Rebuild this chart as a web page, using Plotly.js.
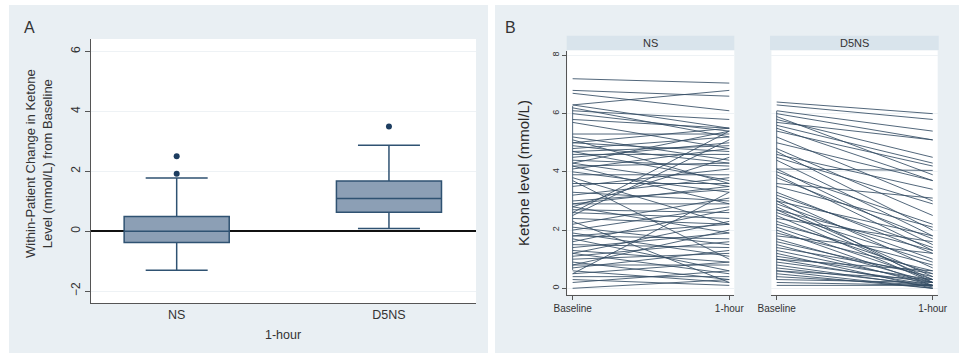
<!DOCTYPE html>
<html>
<head>
<meta charset="utf-8">
<script src="https://cdn.plot.ly/plotly-3.0.1.min.js"></script>
<style>html,body{margin:0;padding:0;background:#fff;}#chart{width:959px;height:354px;}</style>
</head>
<body>
<div id="chart"></div>
<script>
// ---------- Panel A data (within-patient change, box summaries) ----------
const groups = ['NS', 'D5NS'];
const q1 = [-0.38, 0.63];
const medians = [0.0, 1.09];
const q3 = [0.49, 1.68];
const lowerWhisker = [-1.31, 0.09];
const upperWhisker = [1.78, 2.87];
const outlierGroup = ['NS', 'NS', 'D5NS'];
const outlierValue = [2.5, 1.92, 3.5];

// ---------- Panel B data (ketone level per patient) ----------
const timeLabels = ['Baseline', '1-hour'];
const nsBaseline = [7.2, 6.8, 6.7, 6.3, 6.3, 6.2, 6.1, 6.0, 5.8, 5.7, 5.3, 5.2, 5.1, 5.0, 5.0, 4.9, 4.8, 4.7, 4.7, 4.6,
  4.5, 4.4, 4.3, 4.3, 4.2, 4.2, 4.1, 4.0, 3.9, 3.8, 3.7, 3.6, 3.5, 3.3, 3.2, 3.0, 2.9, 2.9, 2.8, 2.8,
  2.7, 2.6, 2.5, 2.4, 2.3, 2.2, 2.1, 2.0, 1.9, 1.8, 1.8, 1.7, 1.6, 1.5, 1.4, 1.3, 1.2, 1.2, 1.1, 1.0,
  0.9, 0.8, 0.8, 0.7, 0.6, 0.5, 0.4, 0.3, 0.2, 0.0, 2.6, 0.5];
const nsHour1 = [7.05, 6.6, 6.1, 6.8, 5.5, 5.2, 5.8, 5.4, 5.5, 4.8, 5.3, 4.4, 3.6, 5.5, 4.7, 4.3, 5.2, 4.9, 3.7, 4.6,
  5.0, 4.2, 3.5, 5.4, 4.3, 2.9, 4.8, 3.3, 3.9, 2.2, 1.0, 3.6, 4.1, 3.0, 3.8, 3.4, 2.9, 3.5, 4.5, 1.9,
  2.6, 2.4, 5.1, 2.2, 0.2, 3.1, 1.5, 2.8, 1.1, 2.2, 1.7, 0.6, 2.7, 1.4, 1.9, 0.9, 2.3, 0.5, 1.6, 1.2,
  0.3, 0.8, 2.0, 1.3, 0.2, 0.9, 0.4, 0.1, 0.6, 0.3, 5.4, 3.3];
const d5Baseline = [6.4, 6.3, 6.1, 6.0, 5.8, 5.7, 5.6, 5.5, 5.4, 5.2, 5.0, 4.8, 4.6, 4.5, 4.4, 4.1, 4.1, 4.0, 3.9, 3.8,
  3.6, 3.3, 3.2, 3.1, 3.0, 2.9, 2.8, 2.7, 2.6, 2.5, 2.4, 2.3, 2.2, 2.1, 2.0, 1.9, 1.8, 1.7, 1.6, 1.5,
  1.4, 1.3, 1.2, 1.1, 1.0, 0.9, 0.8, 0.7, 0.6, 0.5, 0.4, 0.3, 0.2, 0.1, 4.7, 3.5, 5.9, 1.0, 0.6, 2.7, 3.0];
const d5Hour1 = [6.0, 5.8, 5.4, 5.1, 4.5, 5.1, 4.3, 3.7, 4.2, 3.0, 3.7, 2.5, 3.4, 2.9, 1.8, 4.05, 1.5, 2.2, 1.3, 1.7,
  3.1, 1.2, 1.4, 0.7, 1.8, 1.0, 0.4, 1.3, 0.9, 0.2, 1.6, 0.5, 0.8, 0.3, 0.1, 0.6, 1.2, 0.2, 0.4, 0.1,
  0.5, 0.2, 0.0, 0.3, 0.1, 0.2, 0.05, 0.1, 0.3, 0.0, 0.1, 0.2, 0.1, 0.1, 2.0, 2.1, 3.9, 0.6, 0.0, 0.3, 0.2];
// vertical connector visible at the Baseline position in each facet
const nsConnector = [6.26, 0.63];
const d5Connector = [6.09, 0.29];

// ---------- helpers ----------
const W = 959, H = 354;
const fx = p => p / W;
const fy = p => 1 - p / H;

function segments(b, h) {
  const xs = [], ys = [];
  for (let i = 0; i < b.length; i++) {
    xs.push(0, 1, null);
    ys.push(b[i], h[i], null);
  }
  return {x: xs, y: ys};
}

const lineColor = 'rgba(52,76,100,0.85)';
const FONT = 'Liberation Sans, Arial, sans-serif';
const NARROW = 'Liberation Sans Narrow, Liberation Sans, Arial, sans-serif';

const ns = segments(nsBaseline, nsHour1);
const d5 = segments(d5Baseline, d5Hour1);

const traces = [
  {
    type: 'box', x: groups, q1: q1, median: medians, q3: q3,
    lowerfence: lowerWhisker, upperfence: upperWhisker,
    fillcolor: '#8c9fb5', line: {color: '#2f5272', width: 1.5},
    width: 0.495, whiskerwidth: 0.59, boxpoints: false,
    xaxis: 'x', yaxis: 'y', hoverinfo: 'skip', showlegend: false
  },
  {
    type: 'scatter', mode: 'markers', x: outlierGroup, y: outlierValue,
    marker: {color: '#1d3d60', size: 6},
    xaxis: 'x', yaxis: 'y', hoverinfo: 'skip', showlegend: false
  },
  {
    type: 'scatter', mode: 'lines', x: ns.x, y: ns.y, connectgaps: false,
    line: {color: lineColor, width: 1}, xaxis: 'x2', yaxis: 'y2', hoverinfo: 'skip', showlegend: false
  },
  {
    type: 'scatter', mode: 'lines', x: [0, 0], y: nsConnector,
    line: {color: lineColor, width: 1}, xaxis: 'x2', yaxis: 'y2', hoverinfo: 'skip', showlegend: false
  },
  {
    type: 'scatter', mode: 'lines', x: d5.x, y: d5.y, connectgaps: false,
    line: {color: lineColor, width: 1}, xaxis: 'x3', yaxis: 'y3', hoverinfo: 'skip', showlegend: false
  },
  {
    type: 'scatter', mode: 'lines', x: [0, 0], y: d5Connector,
    line: {color: lineColor, width: 1}, xaxis: 'x3', yaxis: 'y3', hoverinfo: 'skip', showlegend: false
  }
];

const panelBg = '#e9eff3';
const stripBg = '#d9e4ec';
const axisLine = '#555555';
const gridC = '#eef2f5';

const shapes = [
  {type: 'rect', xref: 'paper', yref: 'paper', x0: fx(9), x1: fx(488), y0: fy(353), y1: fy(5), fillcolor: panelBg, line: {width: 0}, layer: 'below'},
  {type: 'rect', xref: 'paper', yref: 'paper', x0: fx(495), x1: fx(959), y0: fy(353), y1: fy(5), fillcolor: panelBg, line: {width: 0}, layer: 'below'},
  {type: 'rect', xref: 'paper', yref: 'paper', x0: fx(90.7), x1: fx(476), y0: fy(303), y1: fy(39), fillcolor: '#ffffff', line: {width: 0}, layer: 'below'},
  {type: 'rect', xref: 'paper', yref: 'paper', x0: fx(567.3), x1: fx(734.3), y0: fy(294.7), y1: fy(50.5), fillcolor: '#ffffff', line: {width: 0}, layer: 'below'},
  {type: 'rect', xref: 'paper', yref: 'paper', x0: fx(771.4), x1: fx(937.7), y0: fy(294.7), y1: fy(50.5), fillcolor: '#ffffff', line: {width: 0}, layer: 'below'},
  {type: 'rect', xref: 'paper', yref: 'paper', x0: fx(566.7), x1: fx(734.3), y0: fy(50), y1: fy(35.7), fillcolor: stripBg, line: {width: 0}, layer: 'below'},
  {type: 'rect', xref: 'paper', yref: 'paper', x0: fx(770), x1: fx(938.7), y0: fy(50), y1: fy(35.7), fillcolor: stripBg, line: {width: 0}, layer: 'below'}
];

const annotations = [
  {text: 'A', xref: 'paper', yref: 'paper', x: fx(29), y: fy(27.5), showarrow: false, font: {family: FONT, size: 16, color: '#333'}, xanchor: 'center', yanchor: 'middle'},
  {text: 'B', xref: 'paper', yref: 'paper', x: fx(510), y: fy(27), showarrow: false, font: {family: FONT, size: 16, color: '#333'}, xanchor: 'center', yanchor: 'middle'},
  {text: 'Within-Patient Change in Ketone<br>Level (mmol/L) from Baseline', xref: 'paper', yref: 'paper', x: fx(39), y: fy(164), textangle: -90, showarrow: false, font: {family: FONT, size: 13, color: '#333'}, xanchor: 'center', yanchor: 'middle'},
  {text: '1-hour', xref: 'paper', yref: 'paper', x: fx(283), y: fy(335), showarrow: false, font: {family: FONT, size: 12.5, color: '#333'}, xanchor: 'center', yanchor: 'middle'},
  {text: 'Ketone level (mmol/L)', xref: 'paper', yref: 'paper', x: fx(523), y: fy(173), textangle: -90, showarrow: false, font: {family: FONT, size: 15, color: '#2a2a2a'}, xanchor: 'center', yanchor: 'middle'},
  {text: groups[0], xref: 'paper', yref: 'paper', x: fx(650.5), y: fy(42.8), showarrow: false, font: {family: FONT, size: 11, color: '#333'}, xanchor: 'center', yanchor: 'middle'},
  {text: groups[1], xref: 'paper', yref: 'paper', x: fx(854.3), y: fy(42.8), showarrow: false, font: {family: FONT, size: 11, color: '#333'}, xanchor: 'center', yanchor: 'middle'}
];

const layout = {
  width: W, height: H,
  margin: {l: 0, r: 0, t: 0, b: 0},
  paper_bgcolor: '#ffffff',
  plot_bgcolor: 'rgba(0,0,0,0)',
  showlegend: false,
  shapes: shapes,
  annotations: annotations,
  xaxis: {
    domain: [fx(90.7), fx(476)], anchor: 'y', type: 'category',
    categoryorder: 'array', categoryarray: groups,
    range: [-0.405, 1.41],
    showline: true, linecolor: axisLine, linewidth: 1, mirror: false,
    ticks: '', showgrid: false, zeroline: false,
    tickfont: {family: FONT, size: 12.5, color: '#333'}, fixedrange: true
  },
  yaxis: {
    domain: [fy(303), fy(39)], anchor: 'x',
    range: [-2.4, 6.42], tickvals: [-2, 0, 2, 4, 6], tickangle: -90,
    showline: true, linecolor: axisLine, linewidth: 1,
    ticks: 'outside', ticklen: 5, tickcolor: axisLine,
    showgrid: true, gridcolor: gridC, gridwidth: 1,
    zeroline: true, zerolinecolor: '#111111', zerolinewidth: 1.6,
    tickfont: {family: FONT, size: 12, color: '#333'}, fixedrange: true
  },
  xaxis2: {
    domain: [fx(567.3), fx(734.3)], anchor: 'y2',
    range: [-0.034, 1.032], tickvals: [0, 1], ticktext: timeLabels,
    showline: true, linecolor: axisLine, linewidth: 1,
    ticks: 'outside', ticklen: 4, tickcolor: axisLine,
    showgrid: false, zeroline: false,
    tickfont: {family: NARROW, size: 10, color: '#333'}, fixedrange: true
  },
  yaxis2: {
    domain: [fy(294.7), fy(50.5)], anchor: 'x2',
    range: [-0.22, 8.17], tickvals: [0, 2, 4, 6, 8], tickangle: -90,
    showline: true, linecolor: axisLine, linewidth: 1,
    ticks: 'outside', ticklen: 4, tickcolor: axisLine,
    showgrid: true, gridcolor: gridC, zeroline: false,
    tickfont: {family: FONT, size: 9, color: '#333'}, fixedrange: true
  },
  xaxis3: {
    domain: [fx(771.4), fx(937.7)], anchor: 'y3',
    range: [-0.034, 1.032], tickvals: [0, 1], ticktext: timeLabels,
    showline: true, linecolor: axisLine, linewidth: 1,
    ticks: 'outside', ticklen: 4, tickcolor: axisLine,
    showgrid: false, zeroline: false,
    tickfont: {family: NARROW, size: 10, color: '#333'}, fixedrange: true
  },
  yaxis3: {
    domain: [fy(294.7), fy(50.5)], anchor: 'x3',
    range: [-0.22, 8.17], tickvals: [0, 2, 4, 6, 8],
    showline: false, ticks: '', showticklabels: false,
    showgrid: true, gridcolor: gridC, zeroline: false, fixedrange: true
  }
};

Plotly.newPlot('chart', traces, layout, {displayModeBar: false, staticPlot: true});
</script>
</body>
</html>
